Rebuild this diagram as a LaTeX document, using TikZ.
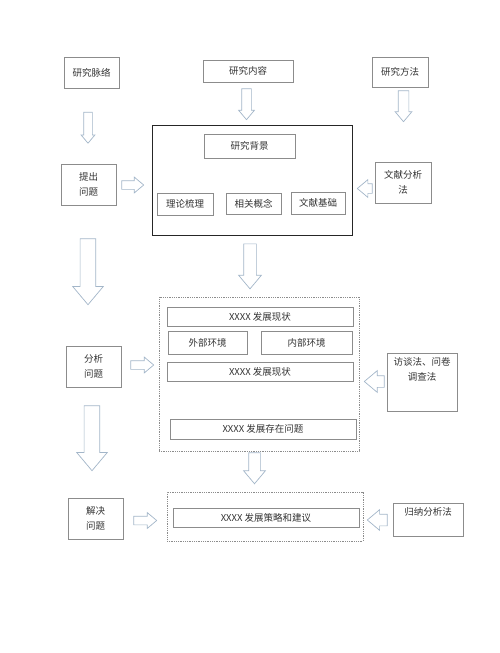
\documentclass[tikz,border=0pt]{standalone}
\usepackage{fontspec}
\setmainfont{Noto Sans CJK SC}
\usetikzlibrary{shapes.arrows, calc}
\definecolor{boxline}{HTML}{8C8C8C}
\definecolor{arrowline}{HTML}{A3B6C9}
\tikzset{
    box/.style={draw=boxline, line width=0.7pt, inner sep=0pt, align=center,
        font=\fontsize{9.5}{15}\selectfont, text=black!80},
    bigframe/.style={draw=black!85, line width=1pt, inner sep=0pt},
    dotframe/.style={draw=boxline, densely dotted, line width=0.8pt, inner sep=0pt},
    blockarrow/.style n args={3}{single arrow, draw=arrowline, fill=white,
        line width=0.7pt, inner sep=0pt, single arrow head indent=0pt,
        single arrow tip angle=80, text width=0pt, text height=#2, text depth=0pt,
        minimum height=#1, single arrow head extend=#3}
}

\begin{document}
\begin{tikzpicture}[x=1pt, y=-1pt]
    \useasboundingbox (0, 0) rectangle (500, 653);

    \node[box, minimum width=55, minimum height=31] (mailuo) at (91.5, 72.5) {研究脉络};
    \node[box, minimum width=90, minimum height=22] (neirong) at (248, 71) {研究内容};
    \node[box, minimum width=56, minimum height=30] (fangfa) at (400, 72) {研究方法};

    \node[bigframe, minimum width=200, minimum height=110] (kuang1) at (252, 180) {};
    \node[box, minimum width=91, minimum height=24] (beijing) at (249.5, 146) {研究背景};
    \node[box, minimum width=56, minimum height=22] (lilun) at (185, 204) {理论梳理};
    \node[box, minimum width=55, minimum height=21] (gainian) at (253.5, 203.5) {相关概念};
    \node[box, minimum width=54, minimum height=22] (jichu) at (318, 203) {文献基础};
    \node[box, minimum width=55, minimum height=41] (tichu) at (88.5, 184.5) {提出\\问题};
    \node[box, minimum width=56, minimum height=41] (wenxian) at (403, 182.5) {文献分析\\法};

    \node[dotframe, minimum width=200, minimum height=154] (kuang2) at (259, 374) {};
    \node[box, minimum width=186, minimum height=19] (xz1) at (260, 316.5) {XXXX 发展现状};
    \node[box, minimum width=79, minimum height=23] (waibu) at (207.5, 342.5) {外部环境};
    \node[box, minimum width=91, minimum height=23] (neibu) at (306.5, 342.5) {内部环境};
    \node[box, minimum width=186, minimum height=19] (xz2) at (260, 371.5) {XXXX 发展现状};
    \node[box, minimum width=186, minimum height=20] (wenti) at (263, 429) {XXXX 发展存在问题};
    \node[box, minimum width=55, minimum height=41] (fenxi) at (93.5, 366.5) {分析\\问题};
    \node[box, minimum width=70, minimum height=58,
        label={[box, draw=none, anchor=north, yshift=-4]north:访谈法、问卷\\调查法}] (fangtan) at (422, 382) {};

    \node[dotframe, minimum width=196, minimum height=49] (kuang3) at (265, 516.5) {};
    \node[box, minimum width=186, minimum height=19] (celue) at (266, 517.5) {XXXX 发展策略和建议};
    \node[box, minimum width=55, minimum height=41] (jiejue) at (95.5, 518.5) {解决\\问题};
    \node[box, minimum width=70, minimum height=33,
        label={[box, draw=none, anchor=north, yshift=-5]north:归纳分析法}] (guina) at (428, 519.5) {};

    \node[blockarrow={31}{8}{2.5}, rotate=-90, anchor=west] at ($(mailuo.south)+(-3.5, 23.5)$) {};
    \node[blockarrow={31}{9}{3}, rotate=-90, anchor=west] at ($(neirong.south)+(-1.5, 6)$) {};
    \node[blockarrow={31}{10}{3}, rotate=-90, anchor=west] at ($(fangfa.south)+(3.5, 3)$) {};
    \node[blockarrow={66}{15}{7.5}, rotate=-90, anchor=west] at ($(tichu.south)+(-0.5, 33)$) {};
    \node[blockarrow={45}{12}{5}, rotate=-90, anchor=west] at ($(kuang1.south)+(-2, 8)$) {};
    \node[blockarrow={65}{15}{7.5}, rotate=-90, anchor=west] at ($(fenxi.south)+(-1.5, 18)$) {};
    \node[blockarrow={31}{11}{5}, rotate=-90, anchor=west] at ($(kuang2.south)+(-4.5, 1)$) {};

    \node[blockarrow={22}{8}{3.5}, anchor=west] at ($(tichu.east)+(5, 0.5)$) {};
    \node[blockarrow={23}{8}{3.5}, anchor=west] at ($(fenxi.east)+(9, -1.5)$) {};
    \node[blockarrow={23}{8}{3.5}, anchor=west] at ($(jiejue.east)+(10, 2)$) {};

    \node[blockarrow={15}{9}{4}, rotate=180, anchor=west] at ($(wenxian.west)+(-2, 6)$) {};
    \node[blockarrow={20}{11}{5}, rotate=180, anchor=west] at ($(fangtan.west)+(-2, -0.5)$) {};
    \node[blockarrow={20}{11}{4.5}, rotate=180, anchor=west] at ($(guina.west)+(-5, 0.5)$) {};
\end{tikzpicture}
\end{document}
